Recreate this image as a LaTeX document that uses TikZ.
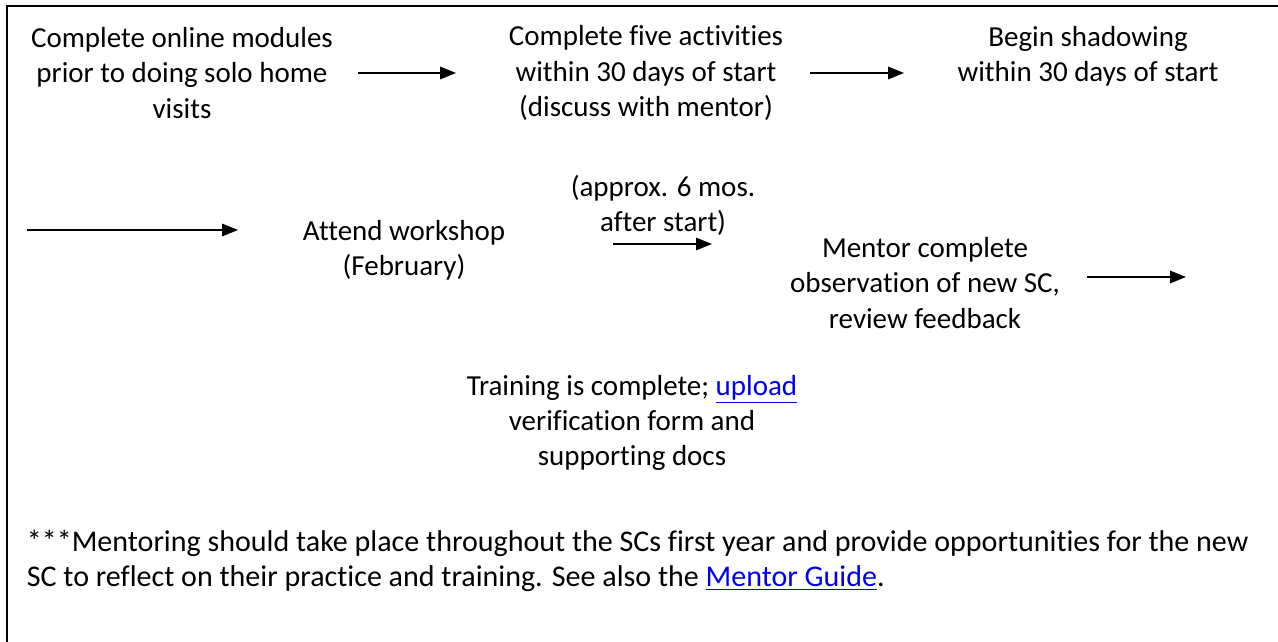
\documentclass[tikz,border=0pt]{standalone}
\usepackage{fontspec}
\setmainfont{Carlito}[Ligatures={NoCommon}]
\usetikzlibrary{arrows.meta}
\definecolor{linkblue}{RGB}{0,0,238}
\newcommand{\weblink}[1]{\textcolor{linkblue}{\underline{#1}}}

\begin{document}
\begin{tikzpicture}[x=0.02cm,y=-0.02cm,line width=1pt]
  \tikzstyle{steptext}=[font=\fontsize{16.5}{20}\selectfont,align=center,inner sep=0pt]
  \tikzstyle{flow}=[-{Triangle[length=9pt,width=7pt]},line width=1.1pt]
  \useasboundingbox (0,0) rectangle (1278,642);
  % frame (only left and top edges fall inside the page)
  \draw[line width=1.2pt] (7,642) -- (7,6) -- (1278,6);
  % first row
  \node[steptext] (modules) at (182,73) {Complete online modules\\prior to doing solo home\\visits};
  \node[steptext] (activities) at (646,73) {Complete five activities\\within 30 days of start\\(discuss with mentor)};
  \node[steptext] (shadowing) at (1088,56) {Begin shadowing\\within 30 days of start};
  % second row
  \node[steptext] (workshop) at (404,250) {Attend workshop\\(February)};
  \node[steptext] (approx) at (663,205) {(approx. 6 mos.\\after start)};
  \node[steptext] (observation) at (925,283) {Mentor complete\\observation of new SC,\\review feedback};
  % third row
  \node[steptext] (complete) at (632,423) {Training is complete; \weblink{upload}\\verification form and\\supporting docs};
  % note
  \node[steptext,font=\fontsize{17.1}{20}\selectfont,align=left,anchor=west] (note) at (26,561) {***Mentoring should take place throughout the SCs first year and provide opportunities for the new\\SC to reflect on their practice and training. See also the \weblink{Mentor Guide}.};
  % arrows
  \coordinate (a1s) at (358,73);  \coordinate (a1e) at (456,73);
  \coordinate (a2s) at (810,73);  \coordinate (a2e) at (904,73);
  \coordinate (a3s) at (27,230);  \coordinate (a3e) at (238,230);
  \coordinate (a4s) at (613,244); \coordinate (a4e) at (712,244);
  \coordinate (a5s) at (1087,277); \coordinate (a5e) at (1186,277);
  \draw[flow] (a1s) -- (a1e);
  \draw[flow] (a2s) -- (a2e);
  \draw[flow] (a3s) -- (a3e);
  \draw[flow] (a4s) -- (a4e);
  \draw[flow] (a5s) -- (a5e);
\end{tikzpicture}
\end{document}
